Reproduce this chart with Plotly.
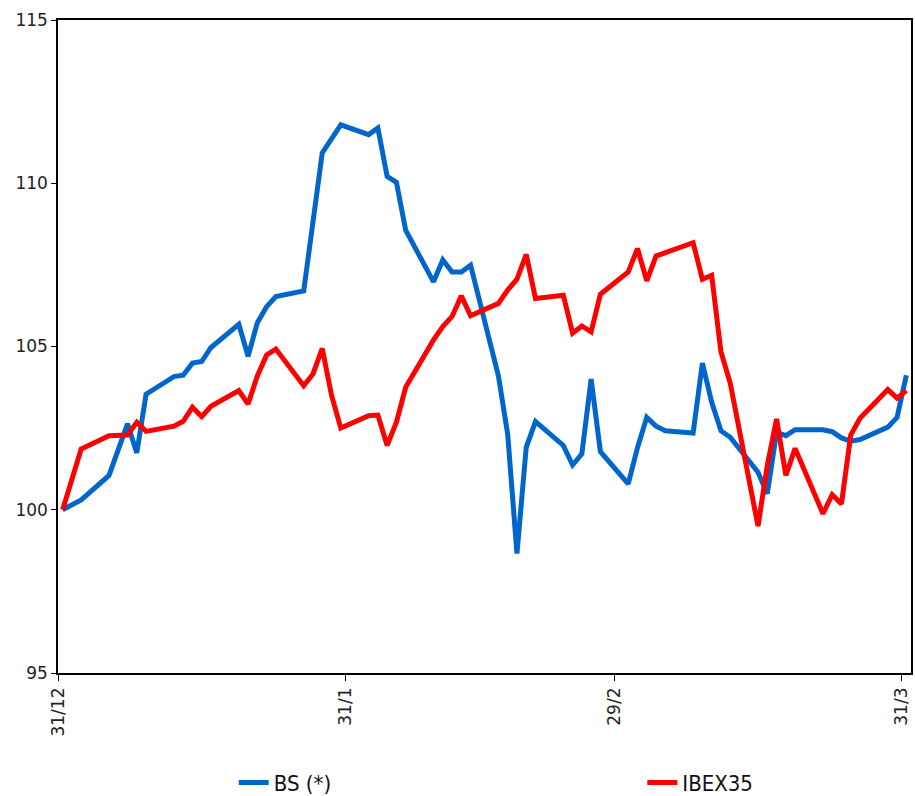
import plotly.graph_objects as go

# Trading sessions, 31 Dec 2003 - 31 Mar 2004 (base 100 on 31/12)
dates = [
    "2003-12-31",
    "2004-01-02", "2004-01-05", "2004-01-06", "2004-01-07", "2004-01-08", "2004-01-09",
    "2004-01-12", "2004-01-13", "2004-01-14", "2004-01-15", "2004-01-16",
    "2004-01-19", "2004-01-20", "2004-01-21", "2004-01-22", "2004-01-23",
    "2004-01-26", "2004-01-27", "2004-01-28", "2004-01-29", "2004-01-30",
    "2004-02-02", "2004-02-03", "2004-02-04", "2004-02-05", "2004-02-06",
    "2004-02-09", "2004-02-10", "2004-02-11", "2004-02-12", "2004-02-13",
    "2004-02-16", "2004-02-17", "2004-02-18", "2004-02-19", "2004-02-20",
    "2004-02-23", "2004-02-24", "2004-02-25", "2004-02-26", "2004-02-27",
    "2004-03-01", "2004-03-02", "2004-03-03", "2004-03-04", "2004-03-05",
    "2004-03-08", "2004-03-09", "2004-03-10", "2004-03-11", "2004-03-12",
    "2004-03-15", "2004-03-16", "2004-03-17", "2004-03-18", "2004-03-19",
    "2004-03-22", "2004-03-23", "2004-03-24", "2004-03-25", "2004-03-26",
    "2004-03-29", "2004-03-30", "2004-03-31",
]

bs = [
    100.0,
    100.3, 101.05, 101.8, 102.63, 101.74, 103.54,
    104.08, 104.12, 104.49, 104.54, 104.97,
    105.68, 104.70, 105.73, 106.22, 106.53,
    106.70, 108.8, 110.93, 111.36, 111.79,
    111.49, 111.69, 110.21, 110.03, 108.56,
    106.98, 107.65, 107.28, 107.28, 107.49,
    104.10, 102.32, 98.66, 101.91, 102.70,
    101.97, 101.37, 101.71, 104.0, 101.78,
    100.79, 101.9, 102.83, 102.56, 102.42,
    102.35, 104.49, 103.3, 102.42, 102.22,
    101.15, 100.49, 102.37, 102.27, 102.45,
    102.45, 102.39, 102.2, 102.1, 102.15,
    102.53, 102.83, 104.12,
]

ibex35 = [
    100.0,
    101.86, 102.27, 102.28, 102.29, 102.68, 102.40,
    102.56, 102.71, 103.14, 102.85, 103.17,
    103.65, 103.24, 104.10, 104.74, 104.92,
    103.80, 104.16, 104.94, 103.51, 102.50,
    102.88, 102.90, 101.97, 102.68, 103.75,
    105.2, 105.61, 105.92, 106.55, 105.94,
    106.32, 106.73, 107.06, 107.82, 106.47,
    106.57, 105.41, 105.63, 105.45, 106.60,
    107.28, 108.0, 107.01, 107.77, 107.87,
    108.18, 107.06, 107.18, 104.84, 103.88,
    99.5, 101.36, 102.78, 101.05, 101.88,
    99.88, 100.46, 100.18, 102.29, 102.80,
    103.68, 103.42, 103.65,
]

# Month-end ticks sit on the left edge of each day slot
tick_vals = ["2003-12-30 12:00", "2004-01-30 12:00", "2004-02-28 12:00", "2004-03-30 12:00"]
tick_text = ["31/12", "31/1", "29/2", "31/3"]
y_ticks = [95, 100, 105, 110, 115]

BLUE = "#0066CC"
RED = "#FF0000"
TICK_FONT = dict(family="DejaVu Sans, Verdana, sans-serif", size=17, color="#222222")
LEGEND_FONT = dict(family="Liberation Sans Narrow, DejaVu Sans Condensed, Arial Narrow, sans-serif",
                   size=22, color="#111111")

fig = go.Figure()
fig.add_trace(go.Scatter(
    x=dates, y=bs, name="BS (*)", mode="lines",
    line=dict(color=BLUE, width=5), legend="legend",
))
fig.add_trace(go.Scatter(
    x=dates, y=ibex35, name="IBEX35", mode="lines",
    line=dict(color=RED, width=5), legend="legend2",
))

fig.update_layout(
    width=915, height=796,
    margin=dict(l=58, r=4, t=20, b=123, autoexpand=False),
    paper_bgcolor="white", plot_bgcolor="white",
    showlegend=True,
    legend=dict(x=0.206, y=-0.168, xanchor="left", yanchor="middle",
                orientation="h", font=LEGEND_FONT, bgcolor="rgba(0,0,0,0)"),
    legend2=dict(x=0.685, y=-0.168, xanchor="left", yanchor="middle",
                 orientation="h", font=LEGEND_FONT, bgcolor="rgba(0,0,0,0)"),
    xaxis=dict(
        type="date",
        range=["2003-12-30 12:00", "2004-03-31 12:00"],
        tickmode="array", tickvals=tick_vals, ticktext=tick_text,
        tickangle=-90, tickfont=TICK_FONT,
        ticks="outside", ticklen=6, tickcolor="black",
        showgrid=False, zeroline=False,
        showline=True, linecolor="black", linewidth=1.5, mirror=True,
    ),
    yaxis=dict(
        range=[95, 115],
        tickmode="array", tickvals=y_ticks, ticktext=[str(v) for v in y_ticks],
        tickfont=TICK_FONT,
        ticks="outside", ticklen=5, tickcolor="black",
        showgrid=False, zeroline=False,
        showline=True, linecolor="black", linewidth=1.5, mirror=True,
    ),
)

fig.write_html("out.html")
